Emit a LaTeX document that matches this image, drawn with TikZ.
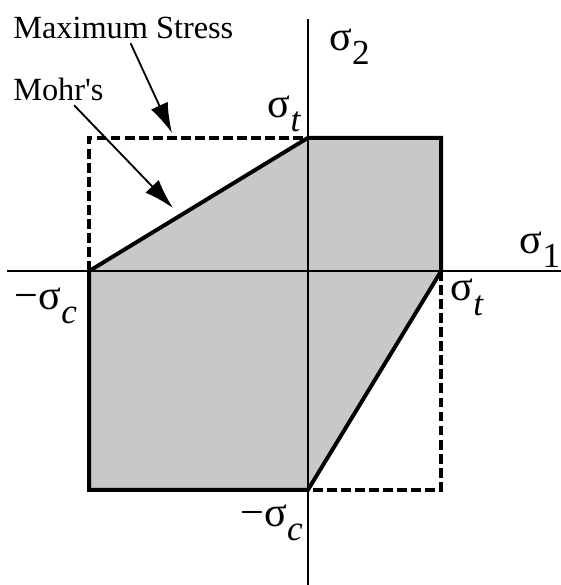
\documentclass[tikz,border=0pt]{standalone}
\usepackage{fontspec}
\setmainfont{Liberation Serif}
\usetikzlibrary{arrows.meta}
\definecolor{region-gray}{RGB}{200, 200, 200}
\newcommand{\sg}[1]{σ\raisebox{-10pt}{\fontsize{25}{25}\selectfont #1}}
\def\st{3.33}
\def\sc{5.47}

\begin{document}
\begin{tikzpicture}[
  region/.style={fill=region-gray},
  axis/.style={line width=0.9pt},
  bound/.style={line width=2.8pt,line join=miter},
  dashbox/.style={line width=2.5pt,dash pattern=on 7pt off 3pt},
  pointer/.style={-{Latex[length=7.5mm,width=4.6mm]},line width=1.3pt},
  sig/.style={inner sep=0pt,font=\fontsize{30}{30}\selectfont},
  note/.style={anchor=base west,inner xsep=0pt,font=\fontsize{23}{27}\selectfont}
]
  \useasboundingbox (-7.7,-7.85) rectangle (6.325,6.775);

  % corners of the two envelopes
  \coordinate (A) at (0,\st);
  \coordinate (B) at (\st,\st);
  \coordinate (C) at (\st,0);
  \coordinate (D) at (0,-\sc);
  \coordinate (E) at (-\sc,-\sc);
  \coordinate (F) at (-\sc,0);
  \coordinate (G) at (-\sc,\st);
  \coordinate (H) at (\st,-\sc);

  \fill[region] (A) -- (B) -- (C) -- (D) -- (E) -- (F) -- cycle;

  % axes
  \coordinate (xl) at (-7.52,0);
  \coordinate (xr) at (6.325,0);
  \coordinate (yt) at (0,6.3);
  \coordinate (yb) at (0,-7.85);
  \draw[axis] (xl) -- (xr);
  \draw[axis] (yb) -- (yt);

  % maximum stress and Mohr envelopes
  \draw[dashbox] (F) -- (G) -- (A);
  \draw[dashbox] (C) -- (H) -- (D);
  \draw[bound] (A) -- (B) -- (C) -- (D) -- (E) -- (F) -- cycle;

  \node[sig] (s2)  at (1.04,5.61)   {\sg{2}};
  \node[sig] (s1)  at (5.8,0.54)    {\sg{1}};
  \node[sig] (stt) at (-0.59,3.93)  {\sg{\textit{t}}};
  \node[sig] (str) at (3.98,-0.66)  {\sg{\textit{t}}};
  \node[sig] (scl) at (-6.55,-0.88) {−\sg{\textit{c}}};
  \node[sig] (scb) at (-0.91,-6.29) {−\sg{\textit{c}}};

  \node[note] (maxs) at (-7.375,5.825) {Maximum Stress};
  \node[note] (mohr) at (-7.375,4.275) {Mohr\textquotesingle s};

  \coordinate (maxsto) at (-3.4,3.45);
  \coordinate (mohrto) at (-3.375,1.575);
  \draw[pointer] (maxs) -- (maxsto);
  \draw[pointer] (mohr) -- (mohrto);
\end{tikzpicture}
\end{document}
